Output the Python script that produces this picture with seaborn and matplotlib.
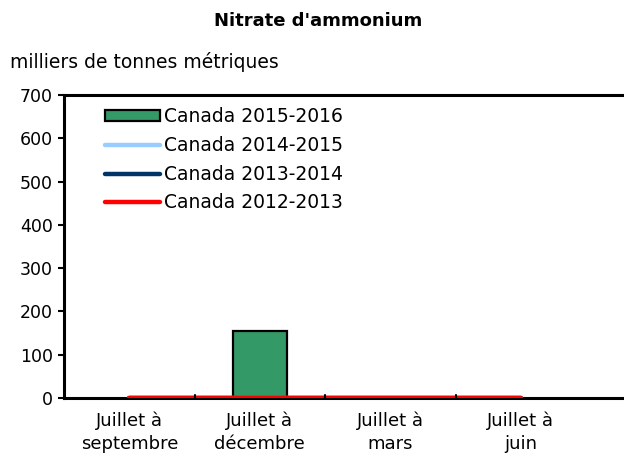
import numpy as np
import pandas as pd
import matplotlib
matplotlib.use("Agg")
import matplotlib.pyplot as plt
import seaborn as sns

categories = ["Juillet à\nseptembre", "Juillet à\ndécembre", "Juillet à\nmars", "Juillet à\njuin"]
canada_2015_2016 = [np.nan, 155, np.nan, np.nan]
canada_2014_2015 = [0, 0, 0, 0]
canada_2013_2014 = [0, 0, 0, 0]
canada_2012_2013 = [0, 0, 0, 0]
yticks = [0, 100, 200, 300, 400, 500, 600, 700]

sns.set_theme(style="white")
plt.rcParams['font.family'] = ['DejaVu Sans']
plt.rcParams['text.color'] = 'black'

fig = plt.figure(figsize=(6.24, 4.57), dpi=100)
ax = fig.add_axes([64/624, (457-398)/457, 1 - 64/624, (398-95)/457])

df_bar = pd.DataFrame({"cat": categories, "val": canada_2015_2016})
sns.barplot(data=df_bar, x="cat", y="val", ax=ax, color="#339966", saturation=1,
            width=0.41, edgecolor="black", linewidth=1.6, label="Canada 2015-2016", zorder=2)

for vals, col, lab in [(canada_2014_2015, "#99CCFF", "Canada 2014-2015"),
                       (canada_2013_2014, "#003366", "Canada 2013-2014"),
                       (canada_2012_2013, "#FF0000", "Canada 2012-2013")]:
    d = pd.DataFrame({"cat": categories, "val": vals})
    sns.lineplot(data=d, x="cat", y="val", ax=ax, color=col, linewidth=3.2,
                 label=lab, sort=False, zorder=3)

ax.set_xlim(-0.5, 3.79)
ax.set_ylim(0, 700)
ax.set_yticks(yticks)
ax.set_yticklabels([str(v) for v in yticks], fontsize=12.5, color="black")
ax.set_xticks(range(len(categories)))
ax.set_xticklabels(categories, fontsize=13, linespacing=1.3, color="black")
ax.tick_params(axis="x", length=0, pad=10)
ax.tick_params(axis="y", direction="out", length=4, width=1.5, left=True, pad=4, colors="black")
for x in [0.5, 1.5, 2.5]:
    ax.plot([x, x], [0, 7], color="black", lw=1.5, zorder=4, clip_on=False)
ax.set_xlabel("")
ax.set_ylabel("")
for s in ["left", "top", "bottom"]:
    ax.spines[s].set_visible(True)
    ax.spines[s].set_color("black")
    ax.spines[s].set_linewidth(2.2)
ax.spines["right"].set_visible(False)
ax.grid(False)

handles, labels = ax.get_legend_handles_labels()
order = [labels.index(l) for l in ["Canada 2015-2016", "Canada 2014-2015", "Canada 2013-2014", "Canada 2012-2013"]]
ax.legend([handles[i] for i in order], [labels[i] for i in order], loc="upper left",
          bbox_to_anchor=(0.052, 1.0), frameon=False,
          fontsize=13.5, handlelength=2.9, handleheight=0.55, handletextpad=0.25, labelspacing=0.52,
          borderaxespad=0.25)

fig.text(0.51, 0.955, "Nitrate d'ammonium", ha="center", va="center", fontsize=13, fontweight="bold")
fig.text(10/624, 1 - 62/457, "milliers de tonnes métriques", ha="left", va="center", fontsize=13.5)

fig.savefig("out.png", dpi=100)
